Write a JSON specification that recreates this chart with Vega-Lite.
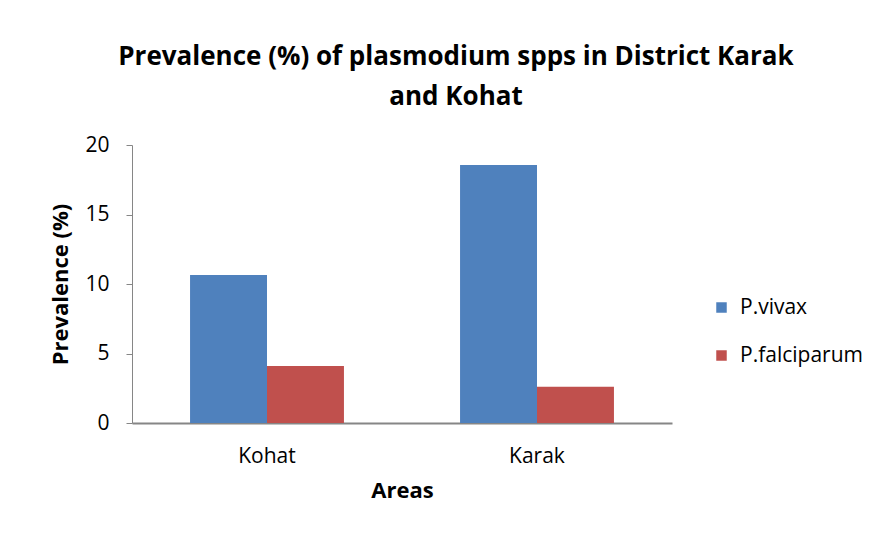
{
  "$schema": "https://vega.github.io/schema/vega-lite/v6.json",
  "width": 540,
  "height": 278,
  "autosize": "none",
  "padding": {"left": 132, "top": 145, "right": 216, "bottom": 116},
  "background": "white",
  "title": {
    "text": ["Prevalence (%) of plasmodium spps in District Karak", "and Kohat"],
    "font": "Open Sans",
    "fontSize": 26,
    "fontWeight": "bold",
    "color": "#000000",
    "lineHeight": 40,
    "anchor": "middle",
    "dx": 54,
    "offset": 24
  },
  "data": {
    "values": [
      {"area": "Kohat", "species": "P.vivax", "prevalence": 10.65},
      {"area": "Kohat", "species": "P.falciparum", "prevalence": 4.1},
      {"area": "Karak", "species": "P.vivax", "prevalence": 18.56},
      {"area": "Karak", "species": "P.falciparum", "prevalence": 2.6}
    ]
  },
  "mark": {"type": "bar"},
  "encoding": {
    "x": {
      "field": "area",
      "type": "nominal",
      "sort": ["Kohat", "Karak"],
      "scale": {"paddingInner": 0.43, "paddingOuter": 0.215},
      "axis": {
        "title": "Areas",
        "labelAngle": 0,
        "ticks": false,
        "labelPadding": 22,
        "titlePadding": 14,
        "domainColor": "#868686",
        "domainWidth": 2
      }
    },
    "xOffset": {"field": "species", "sort": ["P.vivax", "P.falciparum"]},
    "y": {
      "field": "prevalence",
      "type": "quantitative",
      "scale": {"domain": [0, 20]},
      "axis": {
        "title": "Prevalence (%)",
        "values": [0, 5, 10, 15, 20],
        "grid": false,
        "tickSize": 6,
        "tickColor": "#868686",
        "domainColor": "#868686",
        "labelPadding": 17,
        "titlePadding": 12
      }
    },
    "color": {
      "field": "species",
      "type": "nominal",
      "sort": ["P.vivax", "P.falciparum"],
      "scale": {"domain": ["P.vivax", "P.falciparum"], "range": ["#4F81BD", "#C0504D"]},
      "legend": {
        "title": null,
        "orient": "none",
        "legendX": 579,
        "legendY": 152,
        "symbolType": "square",
        "symbolSize": 110,
        "rowPadding": 26,
        "labelFontSize": 21,
        "labelFont": "Open Sans",
        "labelColor": "#000000",
        "labelOffset": 8
      }
    }
  },
  "config": {
    "view": {"stroke": null},
    "axis": {
      "labelFont": "Open Sans",
      "labelFontSize": 21,
      "labelColor": "#000000",
      "titleFont": "Open Sans",
      "titleFontSize": 22,
      "titleFontWeight": "bold",
      "titleColor": "#000000"
    }
  }
}
